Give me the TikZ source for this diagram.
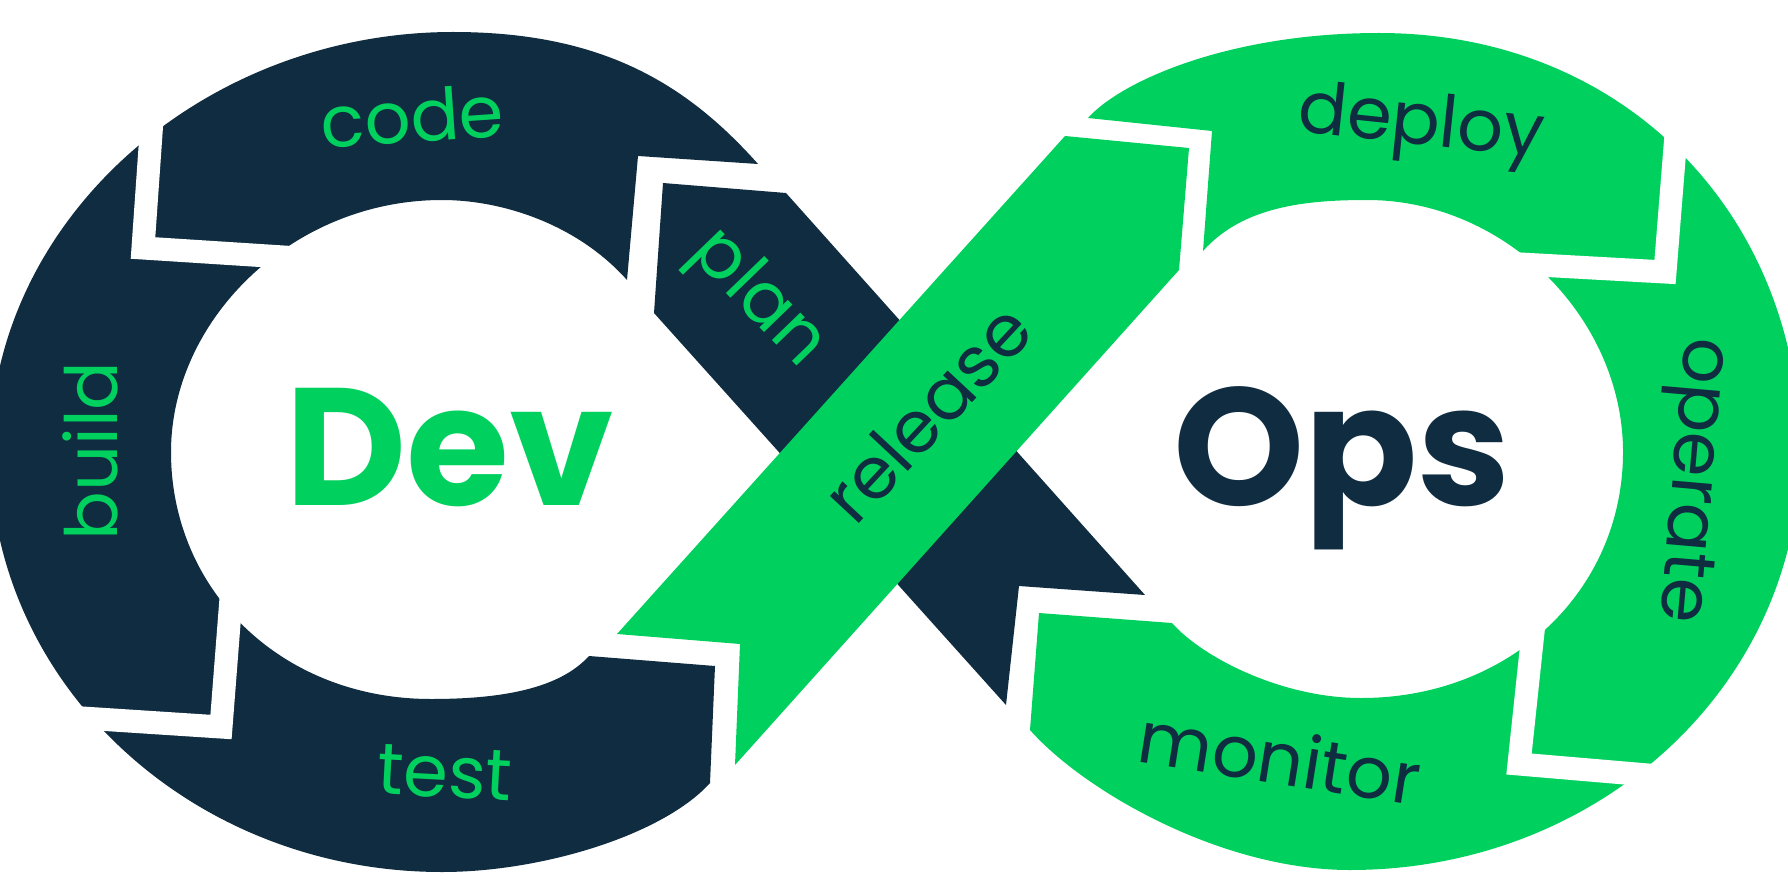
\documentclass[tikz,border=0pt]{standalone}
\usepackage{fontspec}
\setmainfont{Poppins}
\definecolor{navy}{RGB}{15,44,64}
\definecolor{lime}{RGB}{0,209,94}
\tikzset{
  lbl/.style={inner sep=0pt, font=\fontsize{20.5}{24}\selectfont},
  big/.style={inner sep=0pt, anchor=base, font=\fontsize{47.5}{56}\selectfont\bfseries},
  gapline/.style={draw=white, line width=0.23cm, line join=miter, line cap=butt},
}
\begin{document}
\begin{tikzpicture}[x=0.01cm,y=-0.01cm]
\fill[white] (0,0) rectangle (1788,885);
\useasboundingbox (0,0) rectangle (1788,885);
\begin{scope}
\clip (0,0) rectangle (1788,885);
% left ring: code, build, test
\fill[navy] (758,164) .. controls (685,82) and (600,32) .. (453,32)
  .. controls (203,32) and (-10,220) .. (-10,452)
  .. controls (-10,684) and (192,872) .. (442,872)
  .. controls (542,872) and (663,835) .. (710,783)
  -- (715,666) -- (589,656)
  .. controls (559,689) and (501,699) .. (431,699)
  .. controls (281,699) and (171,590) .. (171,452)
  .. controls (171,320) and (292,200) .. (442,200)
  .. controls (502,200) and (577,224) .. (627,280)
  -- (638,156) -- cycle;
% right ring: deploy, operate, monitor
\fill[lime] (1088,118) .. controls (1121,81) and (1229,33) .. (1379,33)
  .. controls (1629,33) and (1800,220) .. (1800,452)
  .. controls (1800,684) and (1600,870) .. (1350,870)
  .. controls (1220,870) and (1083,790) .. (1030,730)
  -- (1039,613) -- (1172,623)
  .. controls (1202,657) and (1281,698) .. (1361,698)
  .. controls (1511,698) and (1623,590) .. (1623,452)
  .. controls (1623,320) and (1507,200) .. (1367,200)
  .. controls (1307,200) and (1243,206) .. (1203,251)
  -- (1212,131) -- cycle;
% plan diagonal (under)
\fill[navy] (786,193) -- (663,183) -- (654,313) -- (1006,705) -- (1019,586) -- (1145,595) -- cycle;
% release diagonal (over)
\fill[lime] (617,634) -- (740,644) -- (735,765) -- (1179,270) -- (1189,148) -- (1065,136) -- cycle;
% gaps inside the rings
\draw[gapline] (157,48) -- (143,248) -- (330,260);
\draw[gapline] (21,714) -- (221,727) -- (235,547);
\draw[gapline] (1681,72) -- (1665,272) -- (1466,261);
\draw[gapline] (1718,781) -- (1519,764) -- (1538,585);
\end{scope}
% labels
\node[lbl, text=lime, rotate=4] (code) at (412,116) {code};
\node[lbl, text=lime, rotate=90] (build) at (90,451) {build};
\node[lbl, text=lime, rotate=-3] (test) at (445,773) {test};
\node[lbl, text=lime, rotate=-46] (plan) at (757,300) {plan};
\node[lbl, text=navy, rotate=47] (release) at (927,413) {release};
\node[lbl, text=navy, rotate=-6] (deploy) at (1421,127) {deploy};
\node[lbl, text=navy, rotate=-95] (operate) at (1688,480) {operate};
\node[lbl, text=navy, rotate=-9] (monitor) at (1280,757) {monitor};
\node[big, text=lime] (dev) at (450,505) {Dev};
\node[big, text=navy] (ops) at (1342,505) {Ops};
\end{tikzpicture}
\end{document}
